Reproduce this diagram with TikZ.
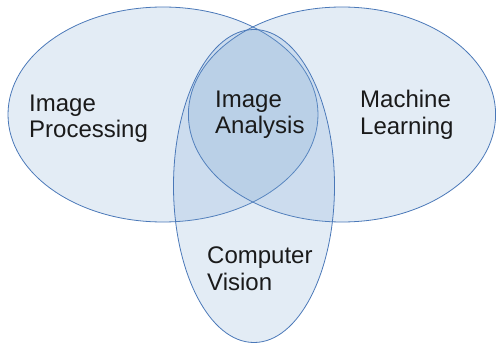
\documentclass[tikz,border=0pt]{standalone}
\usepackage{fontspec}
\setmainfont{Liberation Sans}
\definecolor{setfill}{HTML}{729FCF}
\definecolor{setline}{HTML}{4A78B8}
\definecolor{settext}{HTML}{1A1A1A}
\begin{document}
\begin{tikzpicture}[x=1pt,y=-1pt,
  setshape/.style={fill=setfill,fill opacity=0.2,draw=setline,draw opacity=1,line width=0.8pt},
  setlabel/.style={anchor=base west,align=left,inner sep=0pt,text=settext,
    font=\fontsize{24}{27}\selectfont}]
\useasboundingbox (0,0) rectangle (496,345);
\path[setshape] (163,114.5) ellipse [x radius=155,y radius=107.5];
\path[setshape] (342,114.5) ellipse [x radius=153.6,y radius=107.5];
\path[setshape] (254,186) ellipse [x radius=80.5,y radius=156.5];
\node[setlabel] (ip) at (29,138) {Image\\Processing};
\node[setlabel] (ia) at (215,134) {Image\\Analysis};
\node[setlabel] (ml) at (360,135) {Machine\\Learning};
\node[setlabel] (cv) at (207,290) {Computer\\Vision};
\end{tikzpicture}
\end{document}
